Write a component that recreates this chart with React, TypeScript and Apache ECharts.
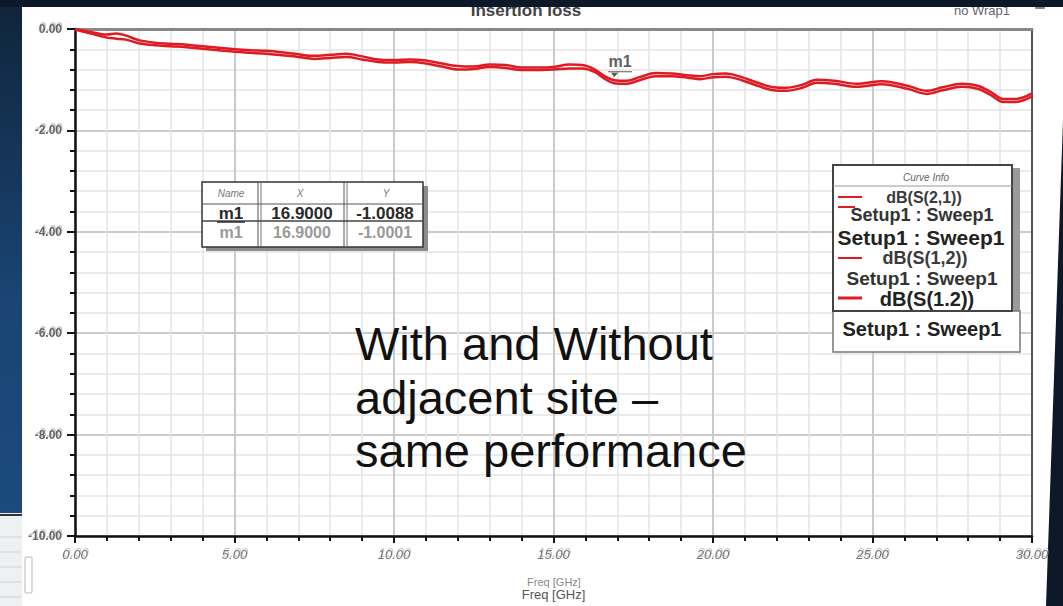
import React, { useEffect, useRef } from "react";
import * as echarts from "echarts";

// Frequency sweep points (GHz)
const freqGHz = [
  0, 0.5, 1, 1.3, 1.6, 2, 2.5, 3, 3.5, 4, 4.5, 5, 5.5, 6, 6.5, 7, 7.5, 8, 8.5, 9,
  9.5, 10, 10.5, 11, 11.5, 12, 12.5, 13, 13.5, 14, 14.5, 15, 15.5, 15.9, 16.3, 16.6,
  16.9, 17.3, 17.7, 18.2, 18.7, 19.2, 19.6, 20, 20.4, 20.9, 21.4, 21.9, 22.3, 22.8,
  23.25, 23.8, 24.5, 25.3, 26.1, 26.7, 27.2, 27.8, 28.3, 28.7, 29.1, 29.5, 30,
];

// Insertion loss, dB(S(2,1))
const s21dB = [
  0, -0.06, -0.11, -0.09, -0.13, -0.22, -0.27, -0.29, -0.31, -0.34, -0.37, -0.4,
  -0.42, -0.43, -0.46, -0.5, -0.53, -0.51, -0.49, -0.54, -0.6, -0.61, -0.6, -0.62,
  -0.68, -0.73, -0.74, -0.7, -0.71, -0.76, -0.76, -0.75, -0.7, -0.71, -0.8, -0.93,
  -1.0088, -1.02, -0.95, -0.87, -0.88, -0.91, -0.93, -0.89, -0.88, -0.95, -1.06,
  -1.15, -1.16, -1.1, -1.0, -1.02, -1.08, -1.03, -1.12, -1.22, -1.15, -1.08, -1.12,
  -1.24, -1.38, -1.38, -1.27,
];

// Insertion loss, dB(S(1,2))
const s12dB = [
  -0.01, -0.09, -0.17, -0.19, -0.21, -0.28, -0.32, -0.34, -0.36, -0.39, -0.42, -0.45,
  -0.47, -0.49, -0.52, -0.55, -0.59, -0.57, -0.55, -0.6, -0.65, -0.66, -0.65, -0.68,
  -0.74, -0.8, -0.79, -0.75, -0.77, -0.81, -0.81, -0.8, -0.78, -0.78, -0.85, -0.98,
  -1.07, -1.08, -1.01, -0.93, -0.93, -0.96, -0.99, -0.95, -0.94, -1.01, -1.12, -1.21,
  -1.22, -1.16, -1.06, -1.08, -1.14, -1.09, -1.18, -1.28, -1.21, -1.14, -1.18, -1.3,
  -1.44, -1.44, -1.33,
];

// Marker m1
const markerName = "m1";
const markerFreq = 16.9;
const markerDb = -1.0088;
const markerGhostDb = -1.0001;

// Axis ranges
const xMin = 0;
const xMax = 30;
const xStep = 5;
const yMin = -10;
const yMax = 0;
const yStep = 2;

const FONT = "'Liberation Sans', Arial, sans-serif";
const NARROW = "'Liberation Sans Narrow', 'Liberation Sans', Arial, sans-serif";
const RED = "#e01a22";

function txt(
  x: number,
  y: number,
  text: string,
  size: number,
  fill: string,
  opts: { weight?: string; align?: string; italic?: boolean; family?: string; z?: number } = {}
) {
  const align = opts.align || "center";
  return {
    type: "text",
    x,
    y,
    z: opts.z ?? 100,
    style: {
      text,
      fill,
      fontSize: size,
      fontWeight: opts.weight || "normal",
      fontStyle: opts.italic ? "italic" : "normal",
      fontFamily: opts.family || FONT,
      align,
      textAlign: align,
      verticalAlign: "middle",
      textVerticalAlign: "middle",
    },
  };
}

function seg(x1: number, y1: number, x2: number, y2: number, stroke: string, w: number, z = 100) {
  return { type: "line", z, shape: { x1, y1, x2, y2 }, style: { stroke, lineWidth: w } };
}

export default function App() {
  const ref = useRef<HTMLDivElement>(null);

  useEffect(() => {
    if (!ref.current) return;
    const chart = echarts.init(ref.current, null, { renderer: "svg" });

    // faint double-print look of the tick labels
    const ghost = {
      textShadowColor: "rgba(130,130,130,0.45)",
      textShadowBlur: 0.5,
      textShadowOffsetX: 1,
      textShadowOffsetY: -2,
    };

    const graphic: any[] = [
      // slide backdrop
      {
        type: "rect",
        z: -10,
        shape: { x: 0, y: 0, width: 22, height: 606 },
        style: {
          fill: new echarts.graphic.LinearGradient(0, 0, 0, 1, [
            { offset: 0, color: "#10243b" },
            { offset: 0.5, color: "#1a4574" },
            { offset: 1, color: "#1d4c80" },
          ]),
        },
      },
      {
        type: "polygon",
        z: -9,
        shape: { points: [[22, 7], [1063, 7], [1063, 120], [1046, 606], [22, 606]] },
        style: { fill: "#ffffff" },
      },
      { type: "rect", z: -9, shape: { x: 0, y: 513, width: 22, height: 93 }, style: { fill: "#eef0f2" } },
      seg(0, 515, 22, 515, "#333", 2, -8),
      seg(0, 537, 22, 537, "#cfd3d8", 1, -8),
      seg(0, 552, 22, 552, "#cfd3d8", 1, -8),
      seg(0, 567, 22, 567, "#cfd3d8", 1, -8),
      seg(0, 582, 22, 582, "#cfd3d8", 1, -8),
      seg(0, 597, 22, 597, "#cfd3d8", 1, -8),
      {
        type: "rect",
        z: -8,
        shape: { x: 25, y: 557, width: 7, height: 36, r: 2 },
        style: { fill: "none", stroke: "#cfcfcf", lineWidth: 1.5 },
      },
      // title strip
      txt(526, 10, "Insertion loss", 17, "#444", { weight: "bold", z: 50 }),
      txt(982, 10, "no Wrap1", 13, "#666", { z: 50 }),
      seg(1035, 8, 1045, 8, "#888", 2, 50),
      { type: "rect", z: 60, shape: { x: 0, y: 0, width: 1063, height: 7 }, style: { fill: "#0d1828" } },

      // marker table
      { type: "rect", z: 98, shape: { x: 206, y: 186, width: 222, height: 65 }, style: { fill: "#8c8c8c" } },
      {
        type: "rect",
        z: 99,
        shape: { x: 202, y: 182, width: 221, height: 65 },
        style: { fill: "#ffffff", stroke: "#333", lineWidth: 1.5 },
      },
      seg(202, 204, 423, 204, "#555", 1),
      seg(258, 182, 258, 247, "#555", 1),
      seg(261, 182, 261, 247, "#777", 1),
      seg(344, 182, 344, 247, "#555", 1),
      seg(347, 182, 347, 247, "#777", 1),
      txt(231, 193, "Name", 10, "#777", { italic: true }),
      txt(300, 193, "X", 10, "#777", { italic: true }),
      txt(386, 193, "Y", 10, "#777", { italic: true }),
      txt(231, 232, markerName, 16, "#9a9a9a", { weight: "bold" }),
      txt(302, 232, markerFreq.toFixed(4), 16, "#9a9a9a", { weight: "bold" }),
      txt(385, 232, markerGhostDb.toFixed(4), 16, "#9a9a9a", { weight: "bold" }),
      seg(202, 221, 423, 221, "#444", 1.5),
      txt(231, 213, markerName, 17, "#2a2a2a", { weight: "bold" }),
      seg(217, 222, 245, 222, "#2a2a2a", 1.5),
      txt(302, 213, markerFreq.toFixed(4), 17, "#2a2a2a", { weight: "bold" }),
      txt(385, 213, markerDb.toFixed(4), 17, "#2a2a2a", { weight: "bold" }),

      // curve info box
      { type: "rect", z: 98, shape: { x: 1012, y: 168, width: 8, height: 143 }, style: { fill: "#9a9a9a" } },
      {
        type: "rect",
        z: 99,
        shape: { x: 833, y: 311, width: 187, height: 41 },
        style: { fill: "#ffffff", stroke: "#777", lineWidth: 1.5 },
      },
      {
        type: "rect",
        z: 99,
        shape: { x: 833, y: 165, width: 179, height: 146 },
        style: { fill: "#ffffff", stroke: "#444", lineWidth: 2 },
      },
      seg(833, 186, 1012, 186, "#999", 1),
      txt(926, 177, "Curve Info", 10, "#666", { italic: true }),
      seg(838, 197, 862, 197, RED, 2),
      txt(924, 197, "dB(S(2,1))", 16, "#3a3a3a", { weight: "bold" }),
      seg(838, 207, 855, 207, RED, 2),
      txt(922, 215, "Setup1 : Sweep1", 18, "#333", { weight: "bold" }),
      txt(921, 237, "Setup1 : Sweep1", 21, "#222", { weight: "bold" }),
      seg(838, 258, 862, 258, RED, 2),
      txt(925, 258, "dB(S(1,2))", 18, "#3a3a3a", { weight: "bold" }),
      txt(922, 278, "Setup1 : Sweep1", 19, "#333", { weight: "bold" }),
      seg(838, 298, 862, 298, RED, 3),
      txt(927, 299, "dB(S(1.2))", 20, "#222", { weight: "bold" }),
      txt(922, 329, "Setup1 : Sweep1", 20, "#222", { weight: "bold" }),

      // annotation
      txt(355, 343, "With and Without", 47, "#111", { align: "left" }),
      txt(355, 397, "adjacent site \u2013", 47, "#111", { align: "left" }),
      txt(355, 450, "same performance", 47, "#111", { align: "left" }),

      // faint duplicate of the axis title
      txt(554, 582, "Freq [GHz]", 11, "#8a8a8a", { family: NARROW, z: 40 }),
    ];

    chart.setOption({
      animation: false,
      backgroundColor: "#0d1828",
      grid: { left: 75, top: 29, right: 31, bottom: 64, containLabel: false },
      xAxis: [
        {
          type: "value",
          min: xMin,
          max: xMax,
          interval: xStep,
          name: "Freq [GHz]",
          nameLocation: "middle",
          nameGap: 52,
          nameTextStyle: { color: "#555", fontSize: 13, fontFamily: NARROW },
          axisLine: { show: true, onZero: false, lineStyle: { color: "#111", width: 2.5 } },
          axisTick: { show: true, length: 7, lineStyle: { color: "#111", width: 2 } },
          minorTick: { show: true, splitNumber: 5, length: 5, lineStyle: { color: "#111", width: 2 } },
          splitLine: { show: true, lineStyle: { color: "#cbcbcb", width: 2 } },
          minorSplitLine: { show: true, lineStyle: { color: "#e4e4e4", width: 1.5 } },
          axisLabel: {
            formatter: (v: number) => v.toFixed(2),
            color: "#777",
            fontSize: 13,
            fontStyle: "italic",
            fontFamily: NARROW,
            margin: 12,
            showMinLabel: true,
            showMaxLabel: true,
            ...ghost,
          },
        },
        {
          type: "value",
          position: "top",
          min: xMin,
          max: xMax,
          axisLine: { show: true, onZero: false, lineStyle: { color: "#888", width: 3 } },
          axisTick: { show: false },
          axisLabel: { show: false },
          splitLine: { show: false },
        },
      ],
      yAxis: [
        {
          type: "value",
          min: yMin,
          max: yMax,
          interval: yStep,
          axisLine: { show: true, onZero: false, lineStyle: { color: "#111", width: 2.5 } },
          axisTick: { show: true, length: 8, lineStyle: { color: "#111", width: 2 } },
          minorTick: { show: true, splitNumber: 5, length: 5, lineStyle: { color: "#111", width: 2 } },
          splitLine: { show: true, lineStyle: { color: "#cbcbcb", width: 2 } },
          minorSplitLine: { show: true, lineStyle: { color: "#e4e4e4", width: 1.5 } },
          axisLabel: {
            formatter: (v: number) => v.toFixed(2),
            color: "#666",
            fontSize: 12,
            fontWeight: "bold",
            fontFamily: NARROW,
            margin: 13,
            showMinLabel: true,
            showMaxLabel: true,
            ...ghost,
          },
        },
        {
          type: "value",
          position: "right",
          min: yMin,
          max: yMax,
          axisLine: { show: true, onZero: false, lineStyle: { color: "#555", width: 2 } },
          axisTick: { show: false },
          axisLabel: { show: false },
          splitLine: { show: false },
        },
      ],
      series: [
        {
          type: "line",
          name: "dB(S(2,1))",
          data: freqGHz.map((f, i) => [f, s21dB[i]]),
          showSymbol: false,
          smooth: 0.35,
          lineStyle: { color: RED, width: 2.5 },
          z: 3,
        },
        {
          type: "line",
          name: "dB(S(1,2))",
          data: freqGHz.map((f, i) => [f, s12dB[i]]),
          showSymbol: false,
          smooth: 0.35,
          lineStyle: { color: RED, width: 2.5 },
          z: 3,
        },
        {
          type: "scatter",
          name: markerName,
          data: [[markerFreq, markerDb]],
          symbol: "path://M0,0L24,0L24,2L0,2Z M3,3L10,3L6,12Z",
          symbolSize: [24, 12],
          symbolKeepAspect: true,
          symbolOffset: [6, -6],
          itemStyle: { color: "#333" },
          label: {
            show: true,
            position: "top",
            distance: 2,
            formatter: markerName,
            fontWeight: "bold",
            fontSize: 16,
            fontFamily: FONT,
            color: "#333",
          },
          z: 5,
        },
      ],
      graphic,
    });

    return () => chart.dispose();
  }, []);

  return (
    <div
      ref={ref}
      style={{ position: "absolute", left: 0, top: 0, width: 1063, height: 606 }}
    />
  );
}
